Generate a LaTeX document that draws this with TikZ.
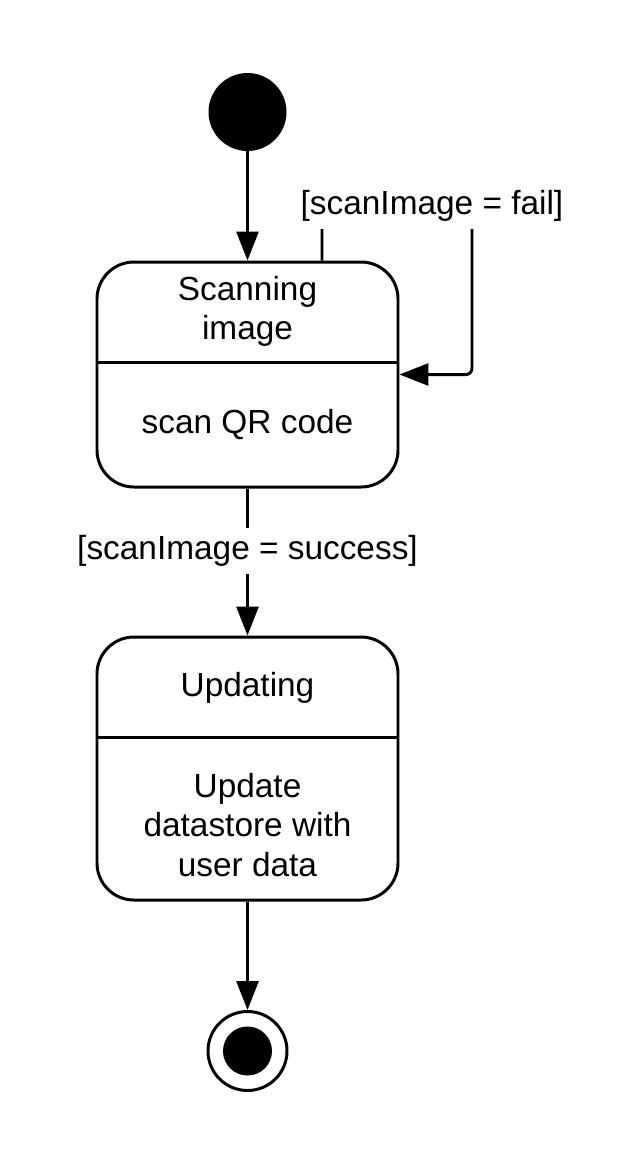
\documentclass[tikz,border=0pt]{standalone}
\usepackage{fontspec}
\setmainfont{Liberation Sans}
\usetikzlibrary{arrows.meta}
\begin{document}
\begin{tikzpicture}[
            font=\fontsize{19}{22.5}\selectfont,
            state/.style={
                rectangle,
                draw=black,
                line width=1.7pt,
                rounded corners=0.74cm,
                minimum width=6.02cm
            },
            statetext/.style={
                draw=none,
                align=center,
                inner sep=0pt
            },
            guard/.style={
                fill=white,
                inner sep=0.14cm
            },
            startdot/.style={
                circle,
                fill=black,
                minimum size=1.56cm,
                inner sep=0pt
            },
            enddot/.style={
                circle,
                draw=black,
                line width=1.7pt,
                minimum size=1.58cm,
                inner sep=0pt
            },
            arrow/.style={-{Triangle[length=0.58cm, width=0.44cm]}, line width=1.7pt}
        ]
        \useasboundingbox (0,0) rectangle (12.78,-23.26);

        % Initial and final states
        \node[startdot] (start) at (4.95,-2.24) {};
        \node[enddot] (stop) at (4.95,-21.02) {};
        \fill (stop) circle (0.49cm);

        % State boxes
        \node[state, minimum height=4.5cm] (box1) at (4.95,-7.49) {};
        \node[state, minimum height=5.26cm] (box2) at (4.95,-15.37) {};

        % Dividers
        \draw[line width=1.7pt] (box1.west |- 0,-7.24) -- (box1.east |- 0,-7.24);
        \draw[line width=1.7pt] (box2.west |- 0,-14.74) -- (box2.east |- 0,-14.74);

        % Box texts
        \node[statetext] (t1) at (4.95,-6.23) {Scanning\\image};
        \node[statetext] (i1) at (4.95,-8.49) {scan QR code};
        \node[statetext] (t2) at (4.95,-13.75) {Updating};
        \node[statetext] (i2) at (4.95,-16.5) {Update\\datastore with\\user data};

        % Connecting arrows
        \coordinate (loopTop) at (9.44,-4.1);
        \draw[arrow] (start.south) -- (box1.north);
        \draw[arrow, rounded corners=0.12cm] ([xshift=1.49cm]box1.north) |- (loopTop) |- (box1.east);
        \draw[arrow] (box1.south) -- (box2.north);
        \draw[arrow] (box2.south) -- (stop.north);

        % Guards
        \node[guard] (g1) at (8.64,-4.12) {[scanImage = fail]};
        \node[guard] (g2) at (4.95,-11.02) {[scanImage = success]};

        \end{tikzpicture}
\end{document}
